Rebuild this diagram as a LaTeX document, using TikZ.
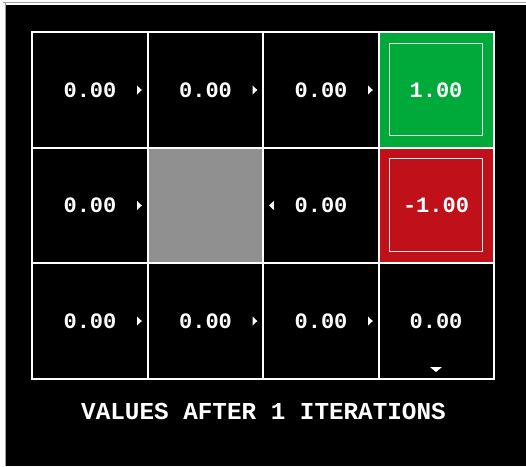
\documentclass[tikz,border=0pt]{standalone}
\usepackage{fontspec}
\newfontfamily\gridfont{Liberation Mono}
\definecolor{termgreen}{RGB}{0,170,58}
\definecolor{termred}{RGB}{192,16,26}
\definecolor{wallgray}{RGB}{144,144,144}
\definecolor{framegray}{RGB}{160,160,160}
\begin{document}
\begin{tikzpicture}[x=1pt,y=-1pt,
  gridline/.style={draw=white,line width=2pt},
  valtext/.style={text=white,font=\gridfont\bfseries\fontsize{22}{22}\selectfont,inner sep=0pt},
  titletext/.style={text=white,font=\gridfont\bfseries\fontsize{24.3}{25}\selectfont,inner sep=0pt},
  innerbox/.style={draw=white!92!black,line width=1.3pt},
  tri/.style={fill=white,draw=none}]
\useasboundingbox (0,0) rectangle (526,466);
\fill[white] (0,0) rectangle (526,466);
\draw[framegray,line width=1pt] (3,2.5) -- (526,2.5);
\draw[framegray,line width=1pt] (5,2.5) -- (5,466);
\fill[black] (6,5) rectangle (526,466);
% special cells
\fill[termgreen] (378.5,32) rectangle (494,147.7);
\fill[termred] (378.5,147.7) rectangle (494,263.3);
\fill[wallgray] (147.5,147.7) rectangle (263,263.3);
\draw[innerbox] (389.5,43.5) rectangle (482.5,135.7);
\draw[innerbox] (389.5,158.5) rectangle (482.5,251.7);
% grid
\draw[gridline] (32,32) rectangle (494,379);
\foreach \xx in {147.5,263,378.5} \draw[gridline] (\xx,32) -- (\xx,379);
\foreach \yy in {147.7,263.3} \draw[gridline] (32,\yy) -- (494,\yy);
% values
\node[valtext] (v00) at (90,90) {0.00};
\node[valtext] (v01) at (205.5,90) {0.00};
\node[valtext] (v02) at (321,90) {0.00};
\node[valtext] (v03) at (436,90) {1.00};
\node[valtext] (v10) at (90,205.5) {0.00};
\node[valtext] (v12) at (321,205.5) {0.00};
\node[valtext] (v13) at (436,205.5) {-1.00};
\node[valtext] (v20) at (90,321) {0.00};
\node[valtext] (v21) at (205.5,321) {0.00};
\node[valtext] (v22) at (321,321) {0.00};
\node[valtext] (v23) at (436,321) {0.00};
% arrows
\foreach \xx/\yy in {137/90, 252.5/90, 368/90, 137/205.5, 137/321, 252.5/321, 368/321}
  \fill[tri] (\xx,\yy-4.5) -- (\xx+4.8,\yy) -- (\xx,\yy+4.5) -- cycle;
\fill[tri] (273.8,201) -- (269,205.5) -- (273.8,210) -- cycle;
\fill[tri] (430,367) -- (442,367) -- (436,372) -- cycle;
% title
\node[titletext] (title) at (263.5,411.5) {VALUES AFTER 1 ITERATIONS};
\end{tikzpicture}
\end{document}
